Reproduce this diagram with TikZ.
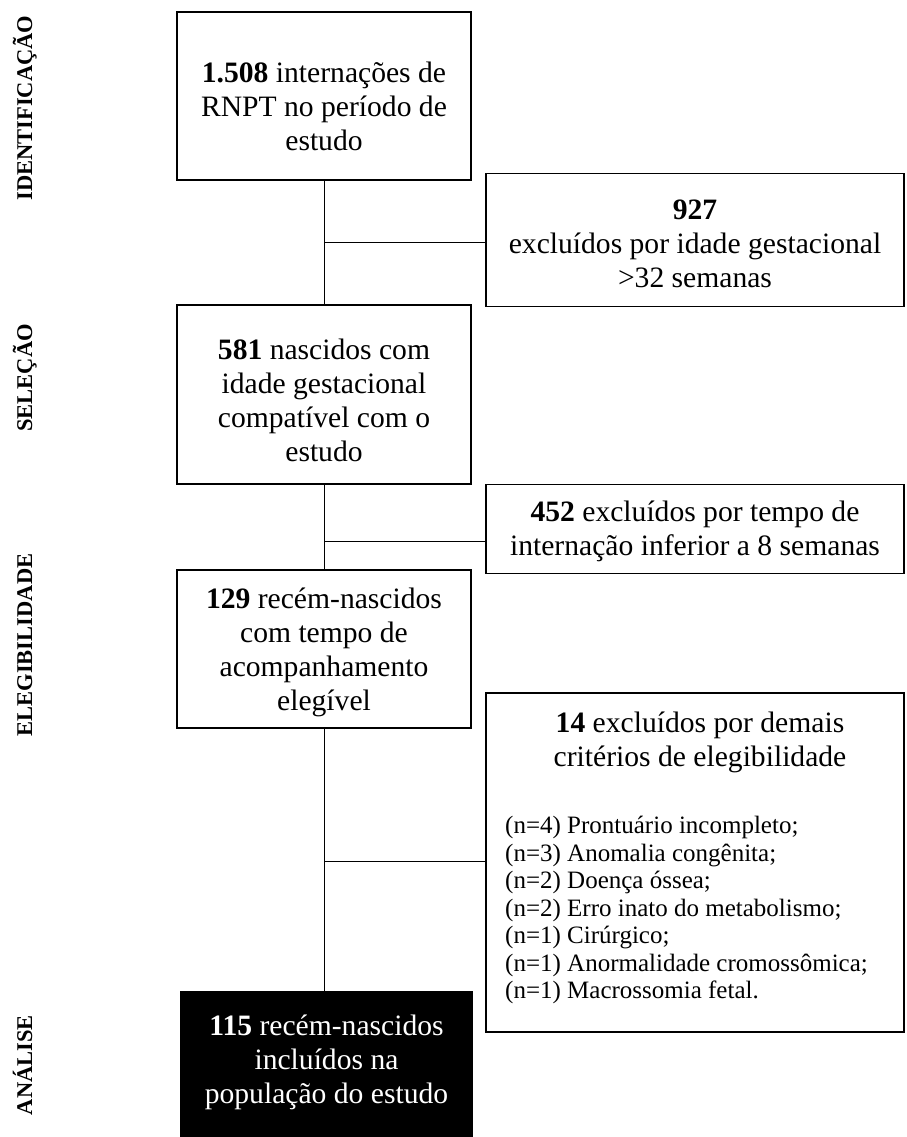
\documentclass[tikz,border=0pt]{standalone}
\usepackage{fontspec}
\setmainfont{Liberation Serif}
\tikzset{
  flowbox/.style={draw, line width=1.9pt, inner sep=0pt},
  boxtext/.style={align=center, inner sep=0pt, font=\fontsize{29.6}{34}\selectfont},
  listtext/.style={align=left, inner sep=0pt, anchor=north west, font=\fontsize{25}{27.5}\selectfont},
  stagelabel/.style={rotate=90, anchor=base, font=\fontsize{22.5}{25}\selectfont\bfseries},
  trunk/.style={line width=1pt}
}
\begin{document}
\begin{tikzpicture}[x=1pt, y=-1pt]
  \useasboundingbox (0,0) rectangle (906,1137);
  % stage labels
  \node[stagelabel] (lid) at (32,108) {IDENTIFICAÇÃO};
  \node[stagelabel] (lsel) at (32,378) {SELEÇÃO};
  \node[stagelabel] (lele) at (32,645) {ELEGIBILIDADE};
  \node[stagelabel] (lan) at (32,1065) {ANÁLISE};
  % main column
  \node[flowbox, minimum width=294, minimum height=168] (ident) at (324,96) {};
  \node[boxtext] (identtxt) at (324,106)
    {\textbf{1.508} internações de\\RNPT no período de\\estudo};
  \node[flowbox, minimum width=294, minimum height=179] (sel) at (324,394.5) {};
  \node[boxtext] (seltxt) at (324,400)
    {\textbf{581} nascidos com\\idade gestacional\\compatível com o\\estudo};
  \node[flowbox, minimum width=294, minimum height=158] (eleg) at (324,649) {};
  \node[boxtext] (elegtxt) at (324,652)
    {\textbf{129} recém-nascidos\\com tempo de\\acompanhamento\\elegível};
  \node[flowbox, fill=black, minimum width=291, minimum height=146] (anal) at (326.5,1065) {};
  \node[boxtext, text=white] (analtxt) at (326.5,1062)
    {\textbf{115} recém-nascidos\\incluídos na\\população do estudo};
  % exclusions
  \node[flowbox, minimum width=418, minimum height=133] (exc1) at (695,240) {};
  \node[boxtext] (exc1txt) at (695,244)
    {\textbf{927}\\excluídos por idade gestacional\\>32 semanas};
  \node[flowbox, minimum width=418, minimum height=89] (exc2) at (695,529) {};
  \node[boxtext] (exc2txt) at (695,531)
    {\textbf{452} excluídos por tempo de\\internação inferior a 8 semanas};
  \node[flowbox, minimum width=418, minimum height=339] (exc3) at (695,862.5) {};
  \node[boxtext] (exc3txt) at (700,742)
    {\textbf{14} excluídos por demais\\critérios de elegibilidade};
  \node[listtext] (exc3list) at (505,816)
    {(n=4) Prontuário incompleto;\\(n=3) Anomalia congênita;\\(n=2) Doença óssea;\\(n=2) Erro inato do metabolismo;\\(n=1) Cirúrgico;\\(n=1) Anormalidade cromossômica;\\(n=1) Macrossomia fetal.};
  % connectors
  \coordinate (j1) at (324,242);
  \coordinate (j2) at (324,541);
  \coordinate (j3) at (324,861);
  \draw[trunk] (ident) -- (sel);
  \draw[trunk] (sel) -- (eleg);
  \draw[trunk] (eleg.south) -- (eleg.south |- anal.north);
  \draw[trunk] (j1) -- (j1 -| exc1.west);
  \draw[trunk] (j2) -- (j2 -| exc2.west);
  \draw[trunk] (j3) -- (j3 -| exc3.west);
\end{tikzpicture}
\end{document}
